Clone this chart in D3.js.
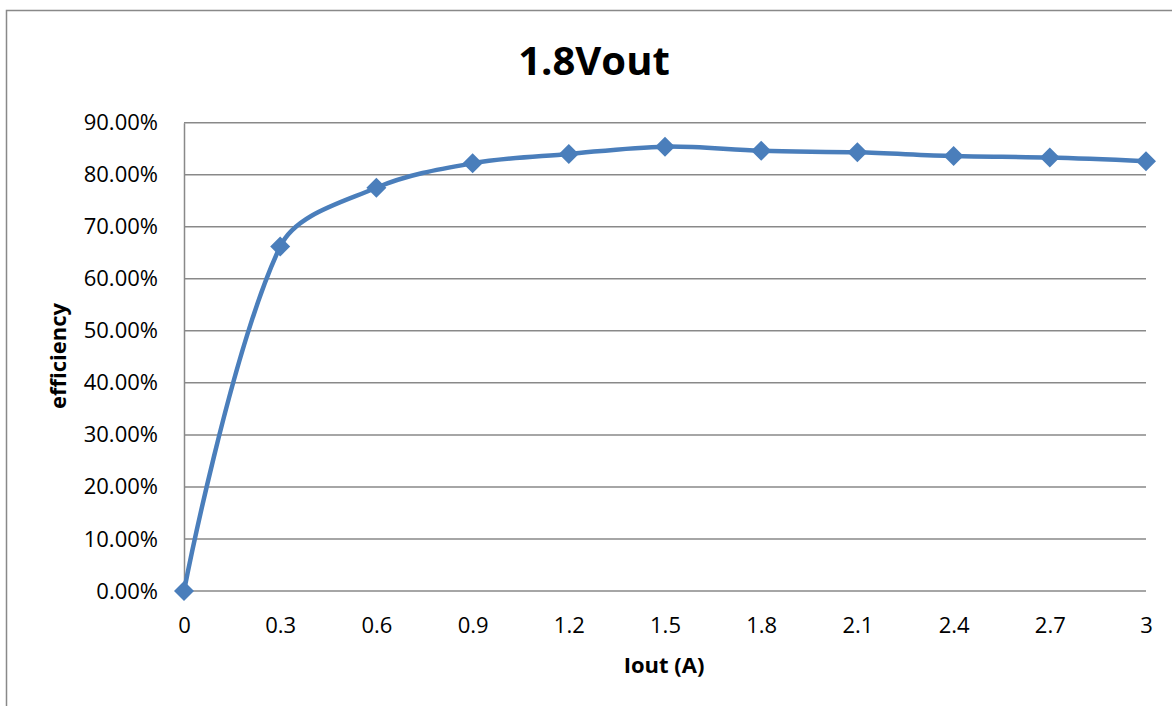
<!DOCTYPE html>
<html>
<head>
<meta charset="utf-8">
<script src="https://cdn.jsdelivr.net/npm/d3@7"></script>
<style>
  body { margin: 0; background: #fff; }
  text { font-family: "Open Sans", "Noto Sans", sans-serif; }
</style>
</head>
<body>
<div id="container"></div>
<script>
// data
let iout = ["0", "0.3", "0.6", "0.9", "1.2", "1.5", "1.8", "2.1", "2.4", "2.7", "3"];
let efficiency = [0, 0.662, 0.775, 0.822, 0.840, 0.854, 0.846, 0.843, 0.836, 0.833, 0.826];
let yTicks = [0, 0.1, 0.2, 0.3, 0.4, 0.5, 0.6, 0.7, 0.8, 0.9];

let width = 1172, height = 706;
let plotLeft = 184, plotRight = 1146, plotTop = 122.7, plotBottom = 591;

let viz = d3.select("#container")
  .append("svg")
    .attr("width", width)
    .attr("height", height)
;

// chart border
viz.append("rect")
    .attr("x", 6.5)
    .attr("y", 10.5)
    .attr("width", 1200)
    .attr("height", 800)
    .attr("fill", "white")
    .attr("stroke", "#898989")
    .attr("stroke-width", 1.5)
;

let x = d3.scalePoint()
    .domain(iout)
    .range([plotLeft, plotRight]);

let y = d3.scaleLinear()
    .domain([0, 0.9])
    .range([plotBottom, plotTop]);

// gridlines
viz.append("g")
    .selectAll("line")
    .data(yTicks)
    .join("line")
      .attr("x1", plotLeft)
      .attr("x2", plotRight)
      .attr("y1", d => y(d))
      .attr("y2", d => y(d))
      .attr("stroke", "#898989")
      .attr("stroke-width", 1.5)
;

// y axis
let yAxis = viz.append("g")
    .attr("transform", "translate(" + plotLeft + ",0)")
    .call(d3.axisLeft(y).tickValues(yTicks).tickSize(0).tickPadding(26).tickFormat(d3.format(".2%")));
yAxis.select(".domain").attr("stroke", "#898989").attr("stroke-width", 1.5);
yAxis.selectAll("text")
    .attr("font-size", 22)
    .attr("fill", "#000")
    .attr("font-family", "Open Sans");

// x axis
let xAxis = viz.append("g")
    .attr("transform", "translate(0," + plotBottom + ")")
    .call(d3.axisBottom(x).tickSize(0).tickPadding(26));
xAxis.select(".domain").remove();
xAxis.selectAll("text")
    .attr("font-size", 22)
    .attr("fill", "#000")
    .attr("font-family", "Open Sans");

// smoothed line, bezier with control arms scaled by segment length (Excel-like)
function smoothPath(pts) {
  let p = d3.path();
  let dist = (a, b) => Math.hypot(b[0] - a[0], b[1] - a[1]);
  p.moveTo(pts[0][0], pts[0][1]);
  for (let i = 0; i < pts.length - 1; i++) {
    let p0 = pts[i - 1], p1 = pts[i], p2 = pts[i + 1], p3 = pts[i + 2];
    let c1 = p1, c2 = p2;
    if (p0) {
      let f = dist(p1, p2) / (dist(p0, p1) + dist(p1, p2)) / 3;
      c1 = [p1[0] + (p2[0] - p0[0]) * f, p1[1] + (p2[1] - p0[1]) * f];
    }
    if (p3) {
      let f = dist(p1, p2) / (dist(p1, p2) + dist(p2, p3)) / 3;
      c2 = [p2[0] - (p3[0] - p1[0]) * f, p2[1] - (p3[1] - p1[1]) * f];
    }
    p.bezierCurveTo(c1[0], c1[1], c2[0], c2[1], p2[0], p2[1]);
  }
  return p.toString();
}

let points = efficiency.map((d, i) => [x(iout[i]), y(d)]);

viz.append("path")
    .attr("d", smoothPath(points))
    .attr("fill", "none")
    .attr("stroke", "#4a7ebb")
    .attr("stroke-width", 4.5)
    .attr("stroke-linejoin", "round")
;

// diamond markers
viz.append("g")
    .selectAll("path")
    .data(efficiency)
    .join("path")
      .attr("transform", (d, i) => "translate(" + x(iout[i]) + "," + y(d) + ")")
      .attr("d", "M0,-10L10,0L0,10L-10,0Z")
      .attr("fill", "#4a7ebb")
;

// title
viz.append("text")
    .text("1.8Vout")
    .attr("x", 594)
    .attr("y", 75)
    .attr("text-anchor", "middle")
    .attr("font-size", 40)
    .attr("font-weight", "bold")
;

// axis titles
viz.append("text")
    .text("Iout (A)")
    .attr("x", 664)
    .attr("y", 673)
    .attr("text-anchor", "middle")
    .attr("font-size", 22)
    .attr("font-weight", "bold")
;

viz.append("text")
    .text("efficiency")
    .attr("transform", "translate(66,356) rotate(-90)")
    .attr("text-anchor", "middle")
    .attr("font-size", 22)
    .attr("font-weight", "bold")
;
</script>
</body>
</html>
